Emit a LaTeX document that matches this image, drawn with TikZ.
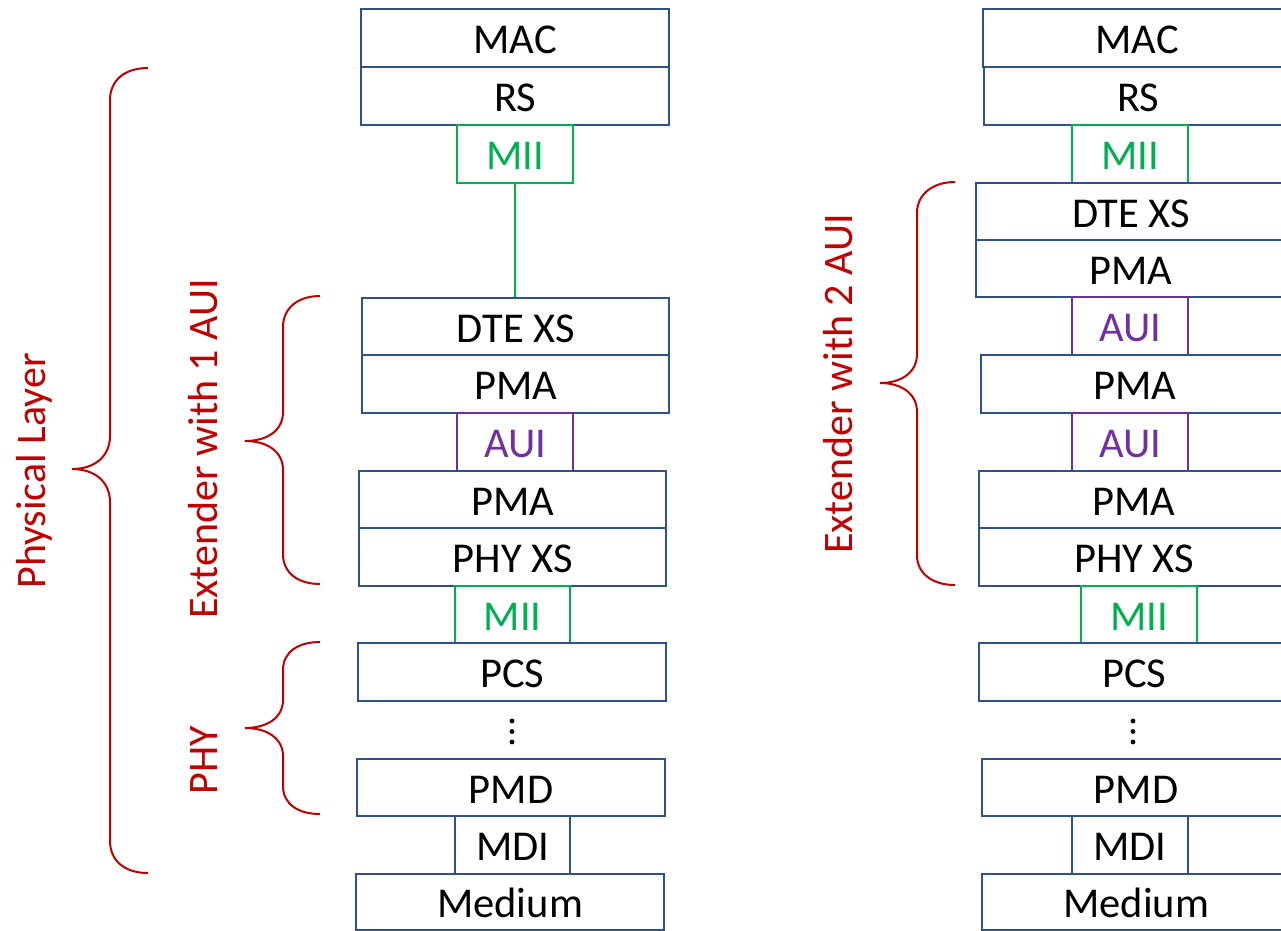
\documentclass[tikz,border=0pt]{standalone}
\usepackage{fontspec}
\setmainfont{Carlito}
\definecolor{boxblue}{HTML}{2F528F}
\definecolor{miigreen}{HTML}{00B050}
\definecolor{auipurple}{HTML}{7030A0}
\definecolor{bracered}{HTML}{C00000}
\begin{document}
\begin{tikzpicture}[x=1pt,y=-1pt,
  layer/.style={draw=boxblue, line width=2.2pt, minimum width=308pt, minimum height=58pt,
    inner sep=0pt, text height=31.5pt, text depth=0pt,
    font=\fontsize{42.5}{50}\selectfont, anchor=north west},
  mii/.style={layer, draw=miigreen, text=miigreen, minimum width=116pt},
  aui/.style={layer, draw=auipurple, text=auipurple, minimum width=116pt},
  mdi/.style={layer, minimum width=116pt},
  redlbl/.style={text=bracered, font=\fontsize{42}{50}\selectfont, rotate=90, anchor=base, inner sep=0pt},
  brace/.style={draw=bracered, line width=2pt},
  dot/.style={fill=black}
]
\useasboundingbox (0,0) rectangle (1281,930);

% ---------- left stack ----------
\node[layer] (macL) at (360,8) {MAC};
\node[layer] (rsL) at (360,66) {RS};
\node[mii] (miiL1) at (456,124) {MII};
\node[layer, minimum width=307pt, minimum height=57pt] (dteL) at (361,297) {DTE XS};
\node[layer, minimum width=307pt] (pmaL1) at (361,354) {PMA};
\node[aui] (auiL) at (456,412) {AUI};
\node[layer, minimum width=307pt, minimum height=57pt] (pmaL2) at (358,470) {PMA};
\node[layer, minimum width=307pt] (phyxsL) at (358,527) {PHY XS};
\node[mii, minimum width=115pt, minimum height=57pt] (miiL2) at (454,585) {MII};
\node[layer] (pcsL) at (357,642) {PCS};
\node[layer, minimum height=57pt] (pmdL) at (356,758) {PMD};
\node[mdi, minimum width=115pt] (mdiL) at (454,815) {MDI};
\node[layer, minimum height=56pt] (medL) at (355,873) {Medium};
\fill[dot] (512,721) circle (2.4) (512,731.5) circle (2.4) (512,742) circle (2.4);
\draw[miigreen, line width=1.5pt] (miiL1.south) -- (dteL.north -| miiL1.south);

% ---------- right stack ----------
\node[layer] (macR) at (982,8) {MAC};
\node[layer] (rsR) at (983,66) {RS};
\node[mii] (miiR1) at (1071,124) {MII};
\node[layer, minimum width=310pt, minimum height=57pt] (dteR) at (975,182) {DTE XS};
\node[layer, minimum width=310pt, minimum height=57pt] (pmaR1) at (975,239) {PMA};
\node[aui] (auiR1) at (1071,296) {AUI};
\node[layer] (pmaR2) at (980,354) {PMA};
\node[aui] (auiR2) at (1071,412) {AUI};
\node[layer, minimum width=310pt, minimum height=57pt] (pmaR3) at (978,470) {PMA};
\node[layer, minimum width=310pt] (phyxsR) at (978,527) {PHY XS};
\node[mii, minimum height=57pt] (miiR2) at (1080,585) {MII};
\node[layer, minimum width=310pt] (pcsR) at (978,642) {PCS};
\node[layer, minimum height=57pt] (pmdR) at (981,758) {PMD};
\node[mdi] (mdiR) at (1071,815) {MDI};
\node[layer, minimum height=56pt] (medR) at (981,873) {Medium};
\fill[dot] (1133,721) circle (2.4) (1133,731.5) circle (2.4) (1133,742) circle (2.4);

% ---------- braces ----------
\draw[brace] (148,68) .. controls (125,68) and (110,80) .. (110,100) -- (110,436)
  .. controls (110,456) and (95,469) .. (72,469) .. controls (95,469) and (110,482) .. (110,502)
  -- (110,841) .. controls (110,861) and (125,873) .. (148,873);
\draw[brace] (320,296) .. controls (298,296) and (283,308) .. (283,327) -- (283,412)
  .. controls (283,430) and (268,441) .. (245,441) .. controls (268,441) and (283,452) .. (283,470)
  -- (283,554) .. controls (283,573) and (298,584) .. (320,584);
\draw[brace] (320,642) .. controls (298,642) and (283,652) .. (283,670) -- (283,700)
  .. controls (283,717) and (268,728) .. (245,728) .. controls (268,728) and (283,739) .. (283,756)
  -- (283,786) .. controls (283,804) and (298,814) .. (320,814);
\draw[brace] (955,182) .. controls (933,182) and (917,194) .. (917,213) -- (917,354)
  .. controls (917,372) and (902,383) .. (880,383) .. controls (902,383) and (917,394) .. (917,412)
  -- (917,555) .. controls (917,574) and (933,585) .. (955,585);

% ---------- labels ----------
\node[redlbl] (lblPhys) at (45,471) {Physical Layer};
\node[redlbl] (lblExt1) at (217,449) {Extender with 1 AUI};
\node[redlbl] (lblPhy) at (217,760) {PHY};
\node[redlbl] (lblExt2) at (852,384) {Extender with 2 AUI};
\end{tikzpicture}
\end{document}
